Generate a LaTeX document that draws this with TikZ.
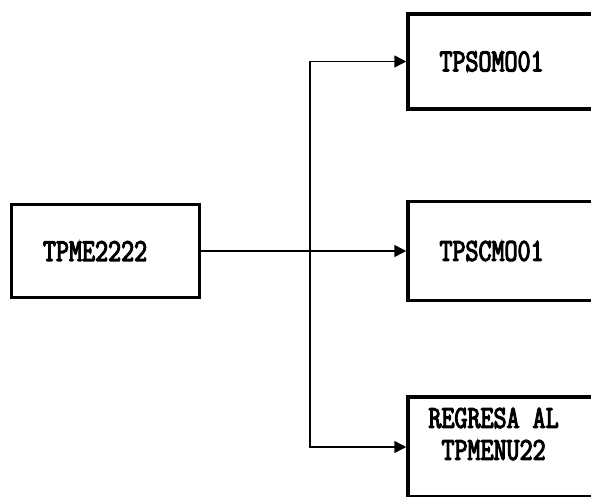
\documentclass[tikz,border=0pt]{standalone}
\usepackage{fontspec}
\newfontfamily\printfont[FakeStretch=0.79, FakeBold=3.5]{Latin Modern Mono}
\usetikzlibrary{positioning,calc,arrows.meta}

\tikzset{
  box/.style={draw, line width=3.5pt, minimum width=220pt, minimum height=97pt, inner sep=0pt},
  lbl/.style={font=\printfont\fontsize{32}{32}\selectfont, align=center, inner sep=0pt},
  link/.style={line width=1.5pt, -{Triangle[length=12pt,width=12pt]}}
}

\begin{document}
\begin{tikzpicture}[x=1pt, y=-1pt, node distance=33pt]
	\useasboundingbox (0,0) rectangle (591,496);
	\clip (0,0) rectangle (591,496);
	% programa principal
	\node[box, minimum width=188pt, minimum height=93pt] (main) at (105.5,251) {};
	\node[lbl, right=of main.west] (maintxt) {TPME2222};
	% opciones
	\node[box, minimum height=95pt] (som) at (518,61.5) {};
	\node[box, minimum height=99pt] (scm) at (518,251) {};
	\node[box, minimum height=100pt] (reg) at (518,447) {};
	\node[lbl, right=of som.west] (somtxt) {TPSOMO01};
	\node[lbl, right=of scm.west] (scmtxt) {TPSCMO01};
	\node[lbl, right=22pt of reg.west, yshift=13pt] (regtxt) {REGRESA AL\\TPMENU22};
	% conexiones
	\coordinate (split) at (310,251);
	\draw[link] (main.east) -- (scm.west);
	\draw[link] (split) |- (som.west);
	\draw[link] (split) |- (reg.west);
\end{tikzpicture}
\end{document}
